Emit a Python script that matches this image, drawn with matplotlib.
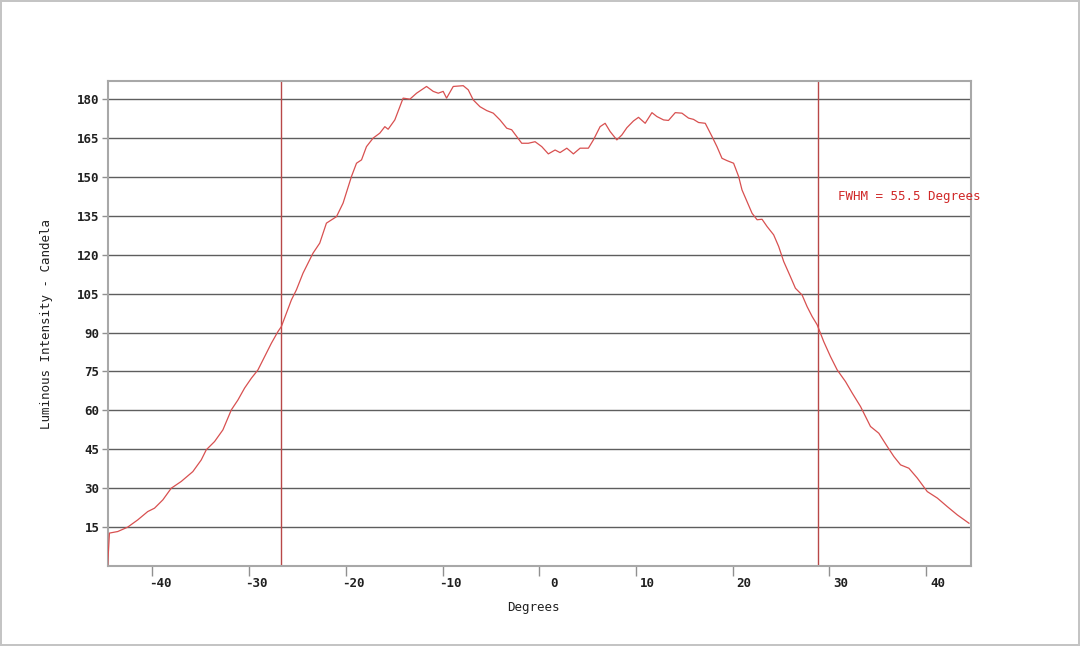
import matplotlib
matplotlib.use("Agg")
import matplotlib.pyplot as plt
from matplotlib.transforms import ScaledTranslation

degrees = [
    -44.61, -44.43, -43.57, -42.54, -41.50, -40.47, -39.77, -38.91, -38.04,
    -37.01, -35.81, -34.94, -34.42, -33.56, -32.70, -31.83, -31.15, -30.46,
    -29.76, -29.08, -28.38, -27.69, -27.01, -26.66, -26.14, -25.62, -25.10,
    -24.42, -23.39, -22.69, -22.00, -20.96, -20.28, -19.41, -18.89, -18.37,
    -17.86, -17.17, -16.48, -15.96, -15.62, -14.93, -14.41, -14.07, -13.37,
    -12.68, -11.65, -10.96, -10.44, -9.93, -9.58, -8.89, -7.86, -7.34,
    -6.82, -6.13, -5.43, -4.75, -4.06, -3.36, -2.85, -2.33, -1.81,
    -1.13, -0.43, 0.26, 0.94, 1.64, 2.15, 2.85, 3.53, 4.22,
    5.08, 5.60, 6.29, 6.81, 7.33, 8.02, 8.54, 9.06, 9.74,
    10.26, 10.95, 11.65, 12.16, 12.85, 13.36, 14.06, 14.75, 15.43,
    15.95, 16.47, 17.16, 17.86, 18.37, 18.89, 19.41, 20.09, 20.61,
    20.96, 21.48, 22.00, 22.52, 23.03, 23.55, 24.23, 24.75, 25.27,
    25.96, 26.48, 27.17, 27.69, 28.21, 28.73, 29.41, 30.10, 30.80,
    31.66, 32.35, 33.21, 34.24, 35.10, 35.97, 36.66, 37.35, 38.21,
    39.08, 40.11, 41.15, 42.18, 43.22, 44.42,
]
candela = [
    0.5, 12.7, 13.3, 15.0, 17.8, 21.0, 22.3, 25.5, 30.0,
    32.6, 36.4, 40.9, 44.8, 48.0, 52.5, 60.2, 64.0, 68.6,
    72.4, 75.6, 80.8, 85.9, 90.4, 92.3, 97.5, 102.6, 106.5,
    112.9, 120.6, 124.5, 132.2, 134.7, 139.9, 150.2, 155.3, 156.6,
    161.7, 165.0, 166.9, 169.4, 168.4, 172.0, 177.1, 180.4, 180.0,
    182.3, 184.9, 183.0, 182.3, 183.0, 180.4, 184.9, 185.2, 183.6,
    179.7, 177.1, 175.6, 174.6, 172.0, 168.8, 168.2, 165.6, 163.0,
    163.0, 163.6, 161.7, 158.9, 160.4, 159.4, 161.1, 158.9, 161.1,
    161.1, 164.3, 169.4, 170.7, 167.5, 164.3, 166.2, 169.0, 171.6,
    173.0, 170.7, 174.8, 173.3, 172.0, 171.8, 174.8, 174.6, 172.7,
    172.2, 171.0, 170.7, 165.6, 161.7, 157.2, 156.3, 155.3, 150.2,
    145.0, 140.5, 136.0, 133.5, 133.7, 130.9, 127.7, 123.2, 117.4,
    111.6, 107.1, 104.5, 100.0, 96.2, 93.0, 86.5, 80.8, 75.6,
    71.1, 66.7, 61.5, 53.8, 51.2, 46.1, 42.2, 39.0, 37.7,
    33.9, 28.7, 26.2, 22.9, 19.7, 16.5,
]
fwhm_left = -26.68
fwhm_right = 28.86
fwhm_text = "FWHM = 55.5 Degrees"

x_ticks = [-40, -30, -20, -10, 0, 10, 20, 30, 40]
y_ticks = [15, 30, 45, 60, 75, 90, 105, 120, 135, 150, 165, 180]

FONT = "DejaVu Sans Mono"

fig = plt.figure(figsize=(10.8, 6.46), dpi=100)
fig.patch.set_facecolor("white")
fig.patch.set_edgecolor("#c4c4c4")
fig.patch.set_linewidth(1.5)
ax = fig.add_axes([0.0998, 0.1238, 0.7990, 0.7508])

for y in y_ticks:
    ax.axhline(y, color="#5e5e5e", linewidth=1.0, zorder=1)

ax.axvline(fwhm_left, color="#b84848", linewidth=1.0, zorder=2)
ax.axvline(fwhm_right, color="#b84848", linewidth=1.0, zorder=2)
ax.plot(degrees, candela, color="#d85050", linewidth=0.9, zorder=3)

ax.text(30.9, 142.3, fwhm_text, color="#d02828", fontsize=9,
        family=FONT, va="center", ha="left")

ax.set_xlim(-44.6, 44.6)
ax.set_ylim(0, 187)
ax.set_xticks(x_ticks)
ax.set_yticks(y_ticks)
ax.set_xticklabels([str(t) for t in x_ticks])
ax.set_yticklabels([str(t) for t in y_ticks])

for s in ax.spines.values():
    s.set_color("#a8a8a8")
    s.set_linewidth(1.5)

ax.tick_params(axis="x", direction="out", length=7, width=1, color="#909090",
               pad=1, labelsize=9)
ax.tick_params(axis="y", direction="out", length=4, width=1, color="#909090",
               pad=2, labelsize=9)
for lab in ax.get_xticklabels() + ax.get_yticklabels():
    lab.set_family(FONT)
    lab.set_fontweight("bold")
    lab.set_color("#202020")

# x labels sit right-aligned a little right of their tick
shift = ScaledTranslation(19 / 100, 0, fig.dpi_scale_trans)
for lab in ax.get_xticklabels():
    lab.set_horizontalalignment("right")
    lab.set_transform(lab.get_transform() + shift)

ax.set_xlabel("Degrees", family=FONT, fontsize=9, color="#202020")
ax.set_ylabel("Luminous Intensity - Candela", family=FONT, fontsize=9,
              color="#202020")
ax.xaxis.set_label_coords(0.493, -0.072)
ax.yaxis.set_label_coords(-0.064, 0.5)

fig.savefig("out.png", dpi=100, facecolor=fig.get_facecolor(),
            edgecolor=fig.get_edgecolor())
